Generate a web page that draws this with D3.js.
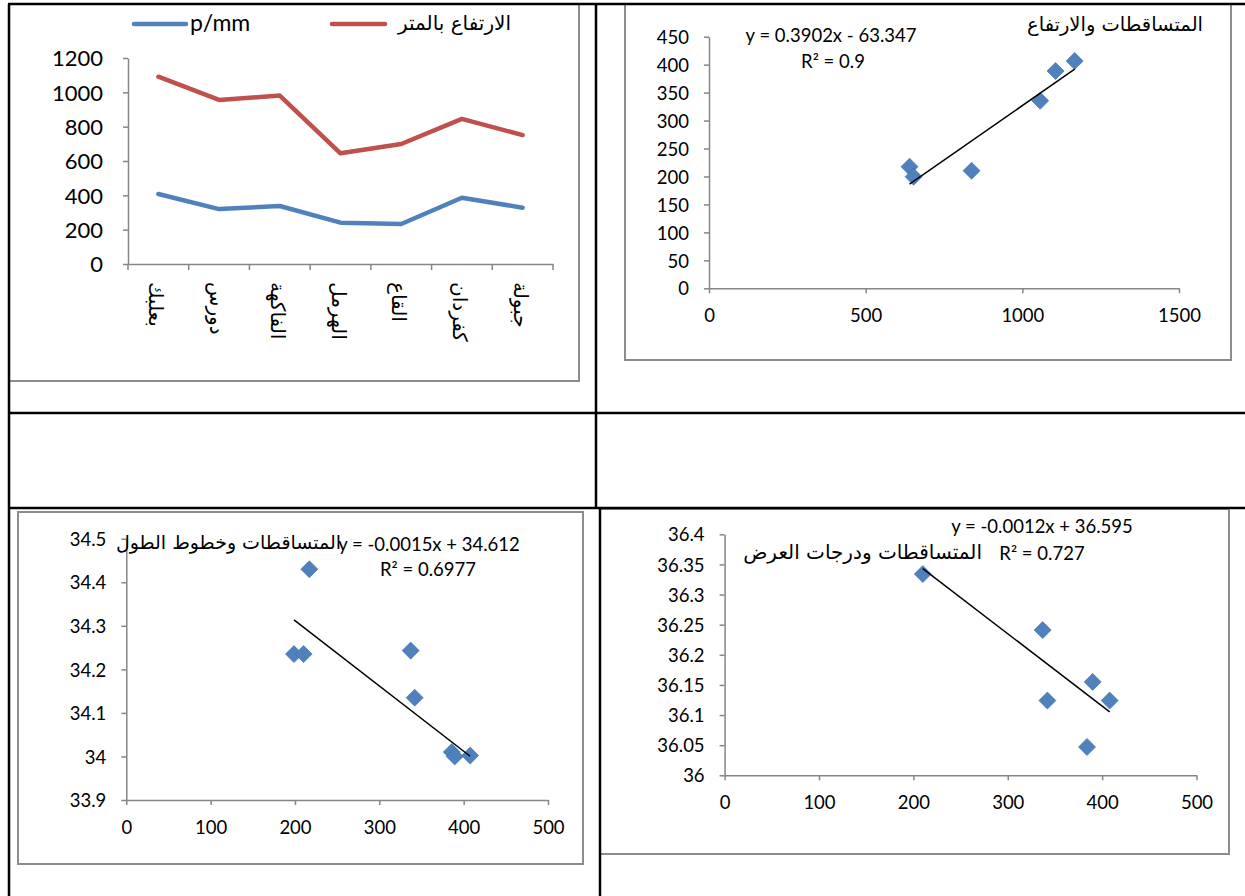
<!DOCTYPE html>
<html>
<head>
<meta charset="utf-8">
<script src="https://cdn.jsdelivr.net/npm/d3@7"></script>
<style>
  html, body { margin: 0; padding: 0; background: #fff; }
  svg { display: block; }
</style>
</head>
<body>
<svg id="chart" width="1245" height="896"></svg>
<script>
// ---------------- DATA ----------------
// Chart 1: line chart by station
const stations = ["بعلبك", "دورس", "الفاكهة", "الهرمل", "القاع", "كفردان", "جبولة"];
const precipitation = [408, 320, 338, 241, 233, 386, 328];     // p/mm
const elevation = [1091, 956, 981, 645, 699, 845, 751];         // الارتفاع بالمتر
const lineTicksY = [0, 200, 400, 600, 800, 1000, 1200];
const lineSeriesNames = ["p/mm", "الارتفاع بالمتر"];

// Chart 2: precipitation vs elevation
const sc1X = [640, 653, 838, 1057, 1106, 1167];
const sc1Y = [217.5, 199.6, 210.3, 335.5, 388.6, 406.5];
const sc1TicksX = [0, 500, 1000, 1500];
const sc1TicksY = [0, 50, 100, 150, 200, 250, 300, 350, 400, 450];
const sc1Trend = [0.3902, -63.347];
const sc1Title = "المتساقطات والارتفاع";
const sc1Eq = ["y = 0.3902x - 63.347", "R² = 0.9"];

// Chart 3: precipitation vs longitude
const sc2X = [198.8, 210.2, 217, 337.2, 341.9, 385.9, 389.4, 407.7];
const sc2Y = [34.235, 34.235, 34.43, 34.243, 34.135, 34.01, 34.0, 34.002];
const sc2TicksX = [0, 100, 200, 300, 400, 500];
const sc2TicksY = [33.9, 34, 34.1, 34.2, 34.3, 34.4, 34.5];
const sc2Trend = [-0.0015, 34.612];
const sc2Title = "المتساقطات وخطوط الطول";
const sc2Eq = ["y = -0.0015x + 34.612", "R² = 0.6977"];

// Chart 4: precipitation vs latitude
const sc3X = [210, 337, 342, 384, 390, 408];
const sc3Y = [36.334, 36.241, 36.124, 36.047, 36.155, 36.124];
const sc3TicksX = [0, 100, 200, 300, 400, 500];
const sc3TicksY = [36, 36.05, 36.1, 36.15, 36.2, 36.25, 36.3, 36.35, 36.4];
const sc3Trend = [-0.0012, 36.595];
const sc3Title = "المتساقطات ودرجات العرض";
const sc3Eq = ["y = -0.0012x + 36.595", "R² = 0.727"];

// ---------------- STYLE ----------------
const FONT = "Lato, 'Open Sans', sans-serif";
const AR_FONT = "'DejaVu Sans', sans-serif";
const BLUE = "#4F81BD", RED = "#C0504D", AXIS = "#868686", FRAME = "#8c8c8c";

const svg = d3.select("#chart");

function frame(x0, y0, x1, y1) {
  svg.append("rect").attr("x", x0).attr("y", y0).attr("width", x1 - x0).attr("height", y1 - y0)
    .attr("fill", "#fff").attr("stroke", FRAME).attr("stroke-width", 2);
}

function styleAxis(g, size) {
  g.select(".domain").attr("stroke", AXIS).attr("stroke-width", 1.5);
  g.selectAll(".tick line").attr("stroke", AXIS).attr("stroke-width", 1.5);
  g.selectAll(".tick text").attr("font-family", FONT).attr("font-size", size).attr("fill", "#000");
}

// ---------------- CHART 1 : LINES ----------------
frame(9, 4, 579, 381);
{
  const x = d3.scaleBand().domain(stations).range([128, 553]);
  const y = d3.scaleLinear().domain([0, 1200]).range([264, 58]);

  const gy = svg.append("g").attr("transform", "translate(128,0)")
    .call(d3.axisLeft(y).tickValues(lineTicksY).tickSize(5).tickSizeOuter(0).tickPadding(20).tickFormat(d3.format("d")));
  styleAxis(gy, 22);
  gy.selectAll(".tick text").attr("dy", "0.36em");

  const gx = svg.append("g").attr("transform", "translate(0,264)")
    .call(d3.axisBottom(x).tickSize(0).tickSizeOuter(0).tickFormat(""));
  styleAxis(gx, 0);
  // boundary ticks
  const bounds = stations.map(s => x(s)).concat([x.range()[1]]);
  svg.append("g").selectAll("line").data(bounds).join("line")
    .attr("x1", d => d).attr("x2", d => d).attr("y1", 264).attr("y2", 270)
    .attr("stroke", AXIS).attr("stroke-width", 1.5);
  // rotated labels
  svg.append("g").selectAll("text").data(stations).join("text")
    .attr("transform", d => `translate(${x(d) + x.bandwidth() / 2 - 2},282) rotate(90)`)
    .attr("text-anchor", "start").attr("dominant-baseline", "central")
    .attr("font-family", AR_FONT).attr("font-size", 20).attr("fill", "#000")
    .text(d => d);

  const line = d3.line().x((d, i) => x(stations[i]) + x.bandwidth() / 2).y(d => y(d));
  svg.append("path").datum(precipitation).attr("d", line).attr("fill", "none")
    .attr("stroke", BLUE).attr("stroke-width", 4.5).attr("stroke-linejoin", "round").attr("stroke-linecap", "round");
  svg.append("path").datum(elevation).attr("d", line).attr("fill", "none")
    .attr("stroke", RED).attr("stroke-width", 4.5).attr("stroke-linejoin", "round").attr("stroke-linecap", "round");

  // legend
  const lg = svg.append("g");
  lg.append("line").attr("x1", 134).attr("x2", 186).attr("y1", 24).attr("y2", 24)
    .attr("stroke", BLUE).attr("stroke-width", 4.5).attr("stroke-linecap", "round");
  lg.append("text").attr("x", 190).attr("y", 31).attr("font-family", FONT).attr("font-size", 23)
    .attr("fill", "#000").text(lineSeriesNames[0]);
  lg.append("line").attr("x1", 332).attr("x2", 385).attr("y1", 24).attr("y2", 24)
    .attr("stroke", RED).attr("stroke-width", 4.5).attr("stroke-linecap", "round");
  lg.append("text").attr("x", 511).attr("y", 30).attr("text-anchor", "end").attr("font-family", AR_FONT)
    .attr("font-size", 20).attr("fill", "#000").text(lineSeriesNames[1]);
}

// ---------------- SCATTER helper ----------------
function scatter(opts) {
  const x = d3.scaleLinear().domain(opts.xDomain).range(opts.xRange);
  const y = d3.scaleLinear().domain(opts.yDomain).range(opts.yRange);
  const gy = svg.append("g").attr("transform", `translate(${opts.xRange[0]},0)`)
    .call(d3.axisLeft(y).tickValues(opts.ticksY).tickSize(5).tickSizeOuter(0).tickPadding(15)
      .tickFormat(d => String(+d.toFixed(2))));
  styleAxis(gy, opts.fontSize);
  gy.selectAll(".tick text").attr("dy", "0.36em");
  const gx = svg.append("g").attr("transform", `translate(0,${opts.yRange[0]})`)
    .call(d3.axisBottom(x).tickValues(opts.ticksX).tickSize(5).tickSizeOuter(0).tickPadding(opts.xPad)
      .tickFormat(d3.format("d")));
  styleAxis(gx, opts.fontSize);
  gx.selectAll(".tick text").attr("dy", "0.71em");

  // markers
  svg.append("g").selectAll("path").data(opts.xs).join("path")
    .attr("d", d3.symbol(d3.symbolSquare, 145)())
    .attr("transform", (d, i) => `translate(${x(d)},${y(opts.ys[i])}) rotate(45)`)
    .attr("fill", BLUE).attr("stroke", "#3d6fa8").attr("stroke-width", 0.6);

  // trend line
  const [m, b] = opts.trend;
  const ext = d3.extent(opts.xs);
  svg.append("line")
    .attr("x1", x(ext[0])).attr("y1", y(m * ext[0] + b))
    .attr("x2", x(ext[1])).attr("y2", y(m * ext[1] + b))
    .attr("stroke", "#000").attr("stroke-width", 1.5);

  // texts
  svg.append("text").attr("x", opts.titlePos[0]).attr("y", opts.titlePos[1]).attr("text-anchor", "end")
    .attr("font-family", AR_FONT).attr("font-size", opts.titleSize).attr("fill", "#000").text(opts.title);
  svg.append("text").attr("x", opts.eqPos[0]).attr("y", opts.eqPos[1]).attr("text-anchor", "middle")
    .attr("font-family", FONT).attr("font-size", 18.5).attr("fill", "#000").text(opts.eq[0]);
  svg.append("text").attr("x", opts.r2Pos[0]).attr("y", opts.r2Pos[1]).attr("text-anchor", "middle")
    .attr("font-family", FONT).attr("font-size", 18.5).attr("fill", "#000").text(opts.eq[1]);
}

// ---------------- CHART 2 ----------------
frame(625, 4, 1231, 360);
scatter({
  xDomain: [0, 1500], xRange: [709, 1179], yDomain: [0, 450], yRange: [288.3, 36.7],
  ticksX: sc1TicksX, ticksY: sc1TicksY, xs: sc1X, ys: sc1Y, trend: sc1Trend, fontSize: 18.5, xPad: 16,
  title: sc1Title, titlePos: [1203, 31], titleSize: 19.5,
  eq: sc1Eq, eqPos: [831, 42], r2Pos: [833, 68]
});

// ---------------- CHART 3 ----------------
frame(18, 512, 583, 864);
scatter({
  xDomain: [0, 500], xRange: [126.3, 548], yDomain: [33.9, 34.5], yRange: [800, 538.7],
  ticksX: sc2TicksX, ticksY: sc2TicksY, xs: sc2X, ys: sc2Y, trend: sc2Trend, fontSize: 18.5, xPad: 16,
  title: sc2Title, titlePos: [341, 549], titleSize: 19,
  eq: sc2Eq, eqPos: [429, 551], r2Pos: [428, 576]
});

// ---------------- CHART 4 ----------------
frame(600, 509, 1229, 854);
scatter({
  xDomain: [0, 500], xRange: [724.6, 1196.5], yDomain: [36, 36.4], yRange: [775.3, 534.3],
  ticksX: sc3TicksX, ticksY: sc3TicksY, xs: sc3X, ys: sc3Y, trend: sc3Trend, fontSize: 18.5, xPad: 16,
  title: sc3Title, titlePos: [982, 559], titleSize: 20,
  eq: sc3Eq, eqPos: [1042, 533], r2Pos: [1042, 560]
});

// ---------------- TABLE GRID ----------------
const grid = [
  [8, 4, 1245, 4], [9, 4, 9, 896], [596, 4, 596, 508],
  [9, 413, 1245, 413], [9, 508, 1245, 508], [600, 508, 600, 896]
];
svg.append("g").selectAll("line").data(grid).join("line")
  .attr("x1", d => d[0]).attr("y1", d => d[1]).attr("x2", d => d[2]).attr("y2", d => d[3])
  .attr("stroke", "#000").attr("stroke-width", 2.5);
</script>
</body>
</html>
